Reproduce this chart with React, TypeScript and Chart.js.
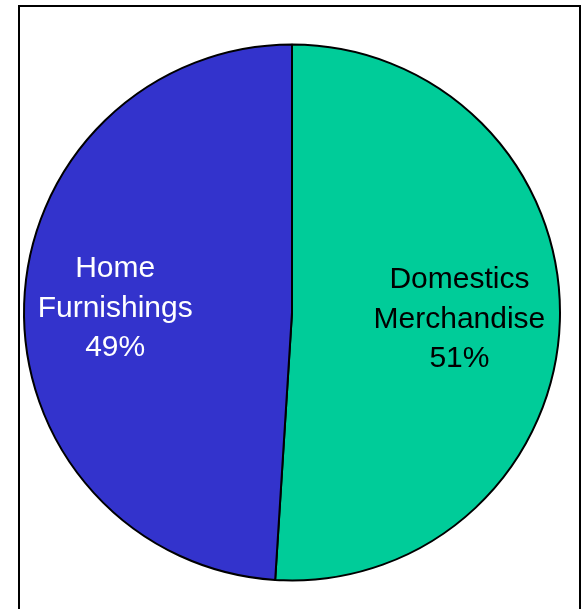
import React, { useEffect, useRef } from "react";
import { Chart, registerables } from "chart.js";

Chart.register(...registerables);

const categories = ["Domestics Merchandise", "Home Furnishings"];
const values = [51, 49];
const labelLines = [
  ["Domestics", "Merchandise", "51%"],
  ["Home", "Furnishings", "49%"],
];
const colors = ["#00CC99", "#3333CC"];
const labelColors = ["#000000", "#FFFFFF"];
const labelRadiusFactors = [0.625, 0.66];

const sliceLabels = {
  id: "sliceLabels",
  afterDatasetsDraw(chart: any) {
    const ctx = chart.ctx;
    const meta = chart.getDatasetMeta(0);
    ctx.save();
    ctx.font = '30px "Liberation Sans", Arial, sans-serif';
    ctx.textAlign = "center";
    ctx.textBaseline = "alphabetic";
    meta.data.forEach((arc: any, i: number) => {
      const p = arc.getProps(["x", "y", "startAngle", "endAngle", "outerRadius"], true);
      const mid = (p.startAngle + p.endAngle) / 2;
      const r = p.outerRadius * labelRadiusFactors[i];
      const cx = p.x + Math.cos(mid) * r;
      const cy = p.y + Math.sin(mid) * r;
      ctx.fillStyle = labelColors[i];
      const lines = labelLines[i];
      lines.forEach((line: string, j: number) => {
        ctx.fillText(line, cx, cy + 10 + (j - 1) * 39.5);
      });
    });
    ctx.restore();
  },
};

export default function App() {
  const canvasRef = useRef<HTMLCanvasElement>(null);

  useEffect(() => {
    if (!canvasRef.current) return;
    const chart = new Chart(canvasRef.current, {
      type: "pie",
      data: {
        labels: categories,
        datasets: [
          {
            data: values,
            backgroundColor: colors,
            borderColor: "#000000",
            borderWidth: 2,
            radius: 268,
          } as any,
        ],
      },
      options: {
        animation: false,
        responsive: false,
        maintainAspectRatio: false,
        layout: { padding: { top: 16, left: 1, right: 0, bottom: 0 } },
        plugins: {
          legend: { display: false },
          tooltip: { enabled: false },
          title: { display: false },
        },
      },
      plugins: [sliceLabels],
    });
    return () => chart.destroy();
  }, []);

  return (
    <div
      style={{
        position: "absolute",
        left: 0,
        top: 0,
        width: 583,
        height: 609,
        overflow: "hidden",
        background: "#FFFFFF",
      }}
    >
      <div
        style={{
          position: "absolute",
          left: 18,
          top: 5,
          width: 563,
          height: 640,
          border: "2px solid #000000",
          boxSizing: "border-box",
        }}
      />
      <canvas
        ref={canvasRef}
        width={583}
        height={609}
        style={{ position: "absolute", left: 0, top: 0, width: 583, height: 609 }}
      />
    </div>
  );
}
